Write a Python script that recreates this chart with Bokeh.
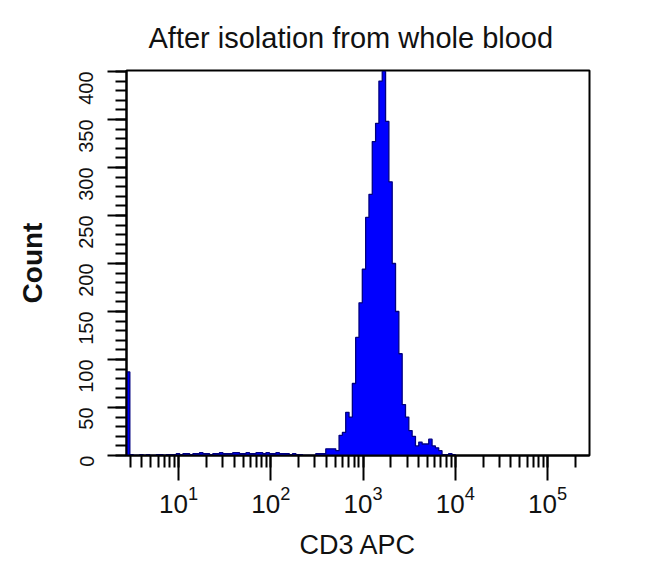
import math
import numpy as np
from bokeh.plotting import figure
from bokeh.models import LogTicker, SingleIntervalTicker, Range1d
from bokeh.embed import file_html
from bokeh.resources import INLINE

# ---- data -------------------------------------------------------------
title_text = "After isolation from whole blood"
x_label = "CD3 APC"
y_label = "Count"

# histogram channel grid (log10 of the CD3 APC value)
log_first_edge = 0.4363
log_bin_width = 0.036

# counts per channel (channel 0 = left edge spike)
counts_low = [87,
              1, 0, 0, 1, 0, 1, 0, 0, 1, 1, 0, 1, 1, 1, 2, 1,
              2, 2, 1, 2, 2, 3, 2, 2, 1, 2, 2, 3, 2, 2, 2, 3, 3, 2, 2,
              3, 2, 2, 3, 3, 2, 3, 2, 2, 3, 2, 2, 2, 1, 2, 1, 1, 0,
              0, 0, 0]
counts_peak = [2, 2, 2, 7, 7, 7, 5, 21, 24, 45, 40, 75, 123, 159, 194, 248,
               272, 327, 346, 390, 400, 348, 285, 200, 150, 106, 53, 40, 26,
               20, 10, 14, 12, 12, 17, 10, 8, 5, 1, 1, 2, 1]
counts = counts_low + counts_peak

x_start, x_end = 2.73, 285000
y_start, y_end = 0, 401

# ---- figure -----------------------------------------------------------
W, H = 632, 562
p = figure(width=W, height=H, x_axis_type="log",
           x_range=Range1d(x_start, x_end), y_range=Range1d(y_start, y_end),
           output_backend="svg", toolbar_location=None,
           min_border_left=126, min_border_right=43,
           min_border_top=70, min_border_bottom=101)
p.background_fill_color = "white"
p.border_fill_color = "white"
p.xgrid.visible = False
p.ygrid.visible = False
p.outline_line_color = "black"
p.outline_line_width = 2

n = len(counts)
edges = 10 ** (log_first_edge + log_bin_width * np.arange(n + 1))
fill_y = np.concatenate([counts, [0]])
p.varea_step(x=edges, y1=0, y2=fill_y, step_mode="after",
             fill_color="#0000FF")
step_x = np.concatenate([[edges[0]], edges])
step_y = np.concatenate([[0], counts, [0]])
p.step(x=step_x, y=step_y, mode="after", line_color="#000080", line_width=1.3)

# title
p.title.text = title_text
p.title.align = "left"
p.title.offset = 22
p.title.text_font = "Liberation Sans"
p.title.text_font_size = "29px"
p.title.text_font_style = "normal"
p.title.text_color = "#111111"
p.title.standoff = 34

# x axis
xa = p.xaxis[0]
xa.ticker = LogTicker(num_minor_ticks=10)
xa.axis_label = x_label
xa.axis_label_text_font = "Liberation Sans"
xa.axis_label_text_font_size = "27px"
xa.axis_label_text_font_style = "normal"
xa.axis_label_text_color = "#111111"
xa.axis_label_standoff = 14
xa.major_label_text_font = "Liberation Sans"
xa.major_label_text_font_size = "26px"
xa.major_label_text_color = "#111111"
xa.major_label_standoff = 5
xa.axis_line_width = 2
xa.major_tick_line_width = 2
xa.minor_tick_line_width = 2
xa.major_tick_out = 25
xa.major_tick_in = 0
xa.minor_tick_out = 12
xa.minor_tick_in = 0

# y axis
ya = p.yaxis[0]
ya.ticker = SingleIntervalTicker(interval=50, num_minor_ticks=5)
ya.axis_label = y_label
ya.axis_label_text_font = "Liberation Sans"
ya.axis_label_text_font_size = "28px"
ya.axis_label_text_font_style = "bold"
ya.axis_label_text_color = "#111111"
ya.axis_label_standoff = 22
ya.major_label_text_font = "Liberation Sans"
ya.major_label_text_font_size = "20px"
ya.major_label_text_color = "#111111"
ya.major_label_orientation = math.pi / 2
ya.major_label_standoff = 21
ya.axis_line_width = 2
ya.major_tick_line_width = 2
ya.minor_tick_line_width = 2
ya.major_tick_out = 19
ya.major_tick_in = 0
ya.minor_tick_out = 11
ya.minor_tick_in = 0

open("out.html", "w").write(file_html(p, INLINE))
